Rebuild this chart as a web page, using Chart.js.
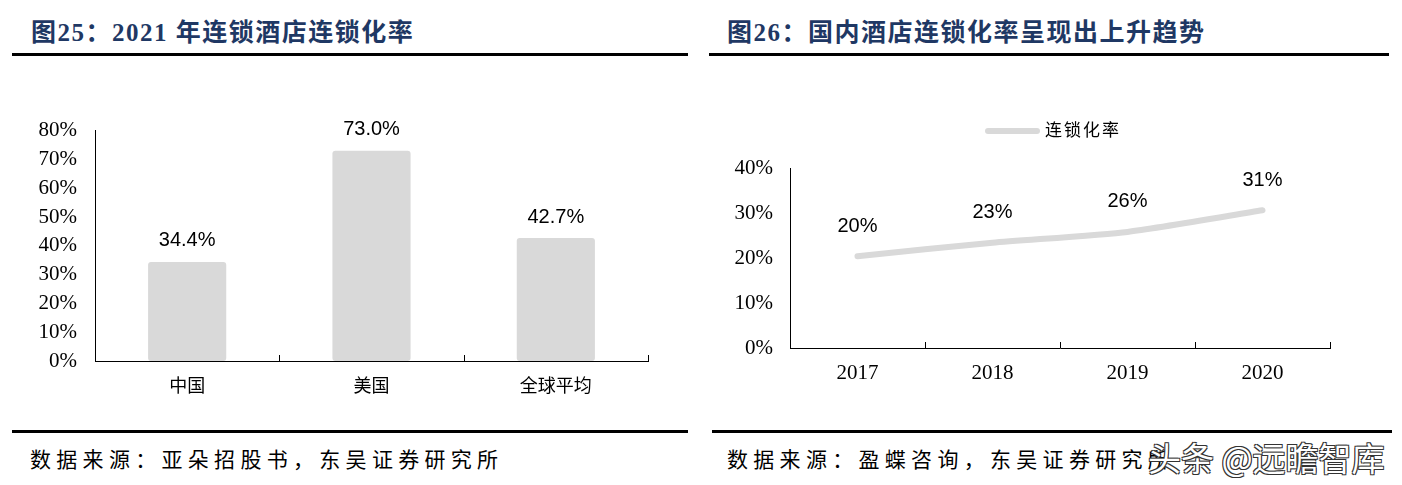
<!DOCTYPE html>
<html>
<head>
<meta charset="utf-8">
<script src="https://cdn.jsdelivr.net/npm/chart.js@4"></script>
<style>
  body { margin: 0; width: 1402px; height: 485px; background: #fff; position: relative; overflow: hidden; }
  .title { position: absolute; top: 12px; font-family: "Liberation Serif", "Noto Sans CJK SC", serif; font-weight: bold; font-size: 25px; letter-spacing: 1.5px; color: #1f3864; white-space: nowrap; }
  .rule { position: absolute; height: 3px; background: #000; }
  .src { position: absolute; top: 443px; font-family: "Noto Sans CJK SC", sans-serif; font-size: 21px; letter-spacing: 5.3px; color: #000; white-space: nowrap; }
  canvas { position: absolute; }
  .legend { position: absolute; left: 985px; top: 116px; font-family: "Noto Sans CJK SC", sans-serif; font-size: 17px; letter-spacing: 2px; color: #000; white-space: nowrap; }
  .legend i { display: inline-block; width: 55px; height: 6px; border-radius: 3px; background: #d9d9d9; vertical-align: middle; margin-right: 5px; }
  .mark { position: absolute; left: 1148px; top: 433px; font-family: "Noto Sans CJK SC", sans-serif; font-size: 33px; color: #fff; white-space: nowrap;
    text-shadow: -1px -1px 0 #333, 1px -1px 0 #333, -1px 1px 0 #333, 1px 1px 0 #333; }
</style>
</head>
<body>
<div class="title" style="left:31px">图25：2021 年连锁酒店连锁化率</div>
<div class="title" style="left:727px">图26：国内酒店连锁化率呈现出上升趋势</div>
<div class="rule" style="left:12px; width:676px; top:53px"></div>
<div class="rule" style="left:709px; width:680px; top:53px"></div>

<canvas id="barChart" width="700" height="310" style="left:0; top:100px"></canvas>
<canvas id="lineChart" width="702" height="310" style="left:700px; top:100px"></canvas>
<div class="legend"><i></i>连锁化率</div>

<div class="rule" style="left:12px; width:676px; top:430px"></div>
<div class="rule" style="left:712px; width:680px; top:430px"></div>
<div class="src" style="left:30px">数据来源：亚朵招股书，东吴证券研究所</div>
<div class="src" style="left:727px">数据来源：盈蝶咨询，东吴证券研究所</div>
<div class="mark">头条 @远瞻智库</div>

<script>
// left chart data
const regions = ['中国', '美国', '全球平均'];
const chainRate2021 = [34.4, 73.0, 42.7];
const barTicks = ['0%', '10%', '20%', '30%', '40%', '50%', '60%', '70%', '80%'];

// right chart data
const years = ['2017', '2018', '2019', '2020'];
const chainRateTrend = [20.4, 23.4, 25.8, 30.6];
const lineTicks = ['0%', '10%', '20%', '30%', '40%'];

const serif = "'Liberation Serif', 'Times New Roman', serif";
const cjk = "'Noto Sans CJK SC', sans-serif";
const sans = "'Liberation Sans', Arial, sans-serif";

// short inward tick marks at category boundaries
const boundaryTicks = {
    id: 'boundaryTicks',
    afterDraw(chart) {
        const x = chart.scales.x, ctx = chart.ctx;
        const bottom = chart.chartArea.bottom;
        ctx.save();
        ctx.strokeStyle = '#000';
        ctx.lineWidth = 1;
        for (let i = 0; i <= x.ticks.length; i++) {
            const px = Math.round(x.getPixelForValue(i - 0.5)) + 0.5;
            ctx.beginPath();
            ctx.moveTo(px, bottom);
            ctx.lineTo(px, bottom - 6);
            ctx.stroke();
        }
        ctx.restore();
    }
};

// value labels above marks
function valueLabels(offset, fmt) {
    return {
        id: 'valueLabels',
        afterDatasetsDraw(chart) {
            const ctx = chart.ctx;
            ctx.save();
            ctx.font = '20px ' + sans;
            ctx.fillStyle = '#000';
            ctx.textAlign = 'center';
            ctx.textBaseline = 'middle';
            chart.getDatasetMeta(0).data.forEach((el, i) => {
                ctx.fillText(fmt(chart.data.datasets[0].data[i]), el.x, el.y - offset);
            });
            ctx.restore();
        }
    };
}

new Chart(document.getElementById('barChart'), {
    type: 'bar',
    data: {
        labels: regions,
        datasets: [{
            data: chainRate2021,
            backgroundColor: '#d9d9d9',
            borderRadius: 3,
            borderSkipped: false,
            barPercentage: 0.424,
            categoryPercentage: 1
        }]
    },
    options: {
        responsive: false,
        animation: false,
        layout: { padding: { left: 0, right: 52, top: 26, bottom: 9 } },
        plugins: { legend: { display: false }, tooltip: { enabled: false } },
        scales: {
            x: {
                afterFit: s => { s.height = 40; },
                grid: { display: false, drawTicks: false },
                border: { color: '#000', width: 1 },
                ticks: { color: '#000', font: { family: cjk, size: 18 }, padding: 13 }
            },
            y: {
                min: 0, max: 80,
                afterFit: s => { s.width = 95; },
                grid: { display: false, drawTicks: false },
                border: { color: '#000', width: 1 },
                ticks: {
                    stepSize: 10, color: '#000', padding: 18,
                    font: { family: serif, size: 21 },
                    callback: (v) => barTicks[v / 10]
                }
            }
        }
    },
    plugins: [boundaryTicks, valueLabels(21, v => v.toFixed(1) + '%')]
});

new Chart(document.getElementById('lineChart'), {
    type: 'line',
    data: {
        labels: years,
        datasets: [{
            label: '连锁化率',
            data: chainRateTrend,
            borderColor: '#d9d9d9',
            borderWidth: 6,
            borderCapStyle: 'round',
            tension: 0.2,
            pointRadius: 0,
            fill: false
        }]
    },
    options: {
        responsive: false,
        animation: false,
        layout: { padding: { left: 0, right: 72, top: 68, bottom: 22 } },
        plugins: { legend: { display: false }, tooltip: { enabled: false } },
        scales: {
            x: {
                offset: true,
                afterFit: s => { s.height = 40; },
                grid: { display: false, drawTicks: false, offset: true },
                border: { color: '#000', width: 1 },
                ticks: { color: '#000', font: { family: serif, size: 21 }, padding: 13 }
            },
            y: {
                min: 0, max: 40,
                afterFit: s => { s.width = 90; },
                grid: { display: false, drawTicks: false },
                border: { color: '#000', width: 1 },
                ticks: {
                    stepSize: 10, color: '#000', padding: 17,
                    font: { family: serif, size: 21 },
                    callback: (v) => lineTicks[v / 10]
                }
            }
        }
    },
    plugins: [boundaryTicks, valueLabels(30, v => Math.round(v) + '%')]
});
</script>
</body>
</html>
